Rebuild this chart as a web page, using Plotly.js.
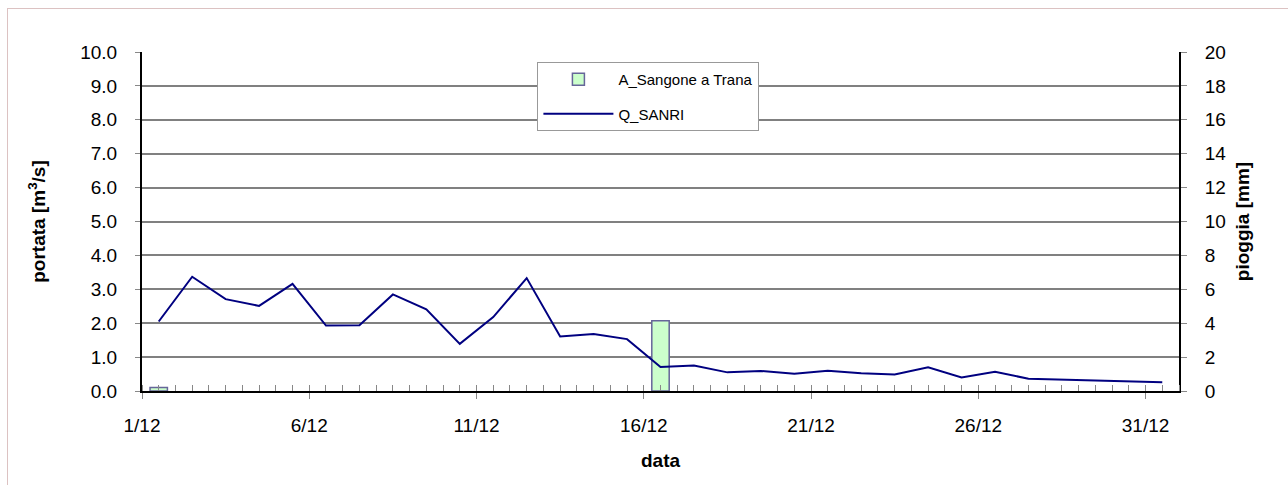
<!DOCTYPE html>
<html>
<head>
<meta charset="utf-8">
<script src="https://cdn.plot.ly/plotly-3.0.1.min.js"></script>
<style>
  html, body { margin: 0; padding: 0; background: #fff; }
  #wrap { position: relative; width: 1288px; height: 485px; overflow: hidden; }
  #chart { width: 1288px; height: 485px; }
  #frame { position: absolute; left: 7px; top: 8px; width: 1300px; height: 500px;
           border: 1px solid #dcc2c2; pointer-events: none; }
</style>
</head>
<body>
<div id="wrap"><div id="chart"></div><div id="frame"></div></div>
<script>
// Days of December (categories)
const dates = [
  '2008-12-01','2008-12-02','2008-12-03','2008-12-04','2008-12-05','2008-12-06','2008-12-07',
  '2008-12-08','2008-12-09','2008-12-10','2008-12-11','2008-12-12','2008-12-13','2008-12-14',
  '2008-12-15','2008-12-16','2008-12-17','2008-12-18','2008-12-19','2008-12-20','2008-12-21',
  '2008-12-22','2008-12-23','2008-12-24','2008-12-25','2008-12-26','2008-12-27','2008-12-28',
  '2008-12-29','2008-12-30','2008-12-31'
];
// Portata Q_SANRI [m3/s]
const portata = [
  2.05, 3.37, 2.71, 2.51, 3.16, 1.93, 1.94, 2.85, 2.41, 1.39, 2.18, 3.33, 1.61, 1.68,
  1.53, 0.71, 0.75, 0.55, 0.59, 0.51, 0.60, 0.52, 0.49, 0.70, 0.40, 0.57, 0.36, 0.34,
  0.30, 0.28, 0.26
];
// Pioggia A_Sangone a Trana [mm] (null = no rain, no bar drawn)
const pioggia = [
  0.2, null, null, null, null, null, null, null, null, null, null, null, null, null,
  null, 4.15, null, null, null, null, null, null, null, null, null, null, null, null,
  null, null, null
];
const seriesNames = ['A_Sangone a Trana', 'Q_SANRI'];
const axisTitles = { x: 'data', yLeft: 'portata [m<sup>3</sup>/s]', yRight: 'pioggia [mm]' };

const DAY = 86400000;
const FONT = "'Liberation Sans', Arial, sans-serif";
const TICK = 19, TITLE = 19, LEG = 15;

const traces = [
  {
    type: 'bar', name: seriesNames[0], x: dates, y: pioggia, yaxis: 'y',
    xperiod: DAY, xperiodalignment: 'middle', width: 0.52 * DAY,
    marker: { color: '#ccffcc', line: { color: '#666699', width: 1.5 } },
    legendgroup: 'a'
  },
  {
    type: 'scatter', mode: 'lines', name: seriesNames[1], x: dates, y: portata, yaxis: 'y2',
    xperiod: DAY, xperiodalignment: 'middle',
    line: { color: '#000080', width: 2 },
    legendgroup: 'b'
  }
];

const layout = {
  width: 1288, height: 485,
  margin: { l: 142, r: 109, t: 52, b: 94 },
  paper_bgcolor: '#ffffff', plot_bgcolor: '#ffffff',
  font: { family: FONT, size: TICK, color: '#000' },
  showlegend: true,
  bargap: 0,
  xaxis: {
    type: 'date',
    range: ['2008-12-01', '2009-01-01'],
    tick0: '2008-12-01', dtick: 5 * DAY, tickformat: '%-d/%-m',
    ticks: 'outside', ticklen: 6, tickcolor: '#888', tickwidth: 1,
    minor: { ticks: 'inside', ticklen: 6, dtick: DAY / 2, tick0: '2008-12-01', tickcolor: '#888', tickwidth: 1, showgrid: false },
    showgrid: false, zeroline: false,
    showline: true, linecolor: '#000', linewidth: 2,
    ticklabelstandoff: 10,
    tickfont: { family: FONT, size: TICK },
    title: { text: axisTitles.x, font: { family: FONT, size: TITLE, weight: 'bold' }, standoff: 19 },
    fixedrange: true
  },
  yaxis: {
    side: 'right',
    range: [0, 20], dtick: 2, tick0: 0,
    ticks: 'outside', ticklen: 6, tickcolor: '#888',
    showgrid: false, zeroline: false,
    showline: true, linecolor: '#000', linewidth: 2,
    ticklabelstandoff: 14,
    tickfont: { family: FONT, size: TICK },
    title: { text: axisTitles.yRight, font: { family: FONT, size: TITLE, weight: 'bold' }, standoff: 10 },
    fixedrange: true
  },
  yaxis2: {
    overlaying: 'y', side: 'left',
    range: [0, 10], dtick: 1, tick0: 0, tickformat: '.1f',
    ticks: 'outside', ticklen: 5, tickcolor: '#888',
    showgrid: true, gridcolor: '#808080', gridwidth: 2,
    zeroline: false,
    showline: true, linecolor: '#000', linewidth: 2,
    ticklabelstandoff: 14,
    tickfont: { family: FONT, size: TICK },
    title: { text: axisTitles.yLeft, font: { family: FONT, size: TITLE, weight: 'bold' }, standoff: 30 },
    fixedrange: true
  },
  legend: {
    x: 0.3813, y: 0.9705, xanchor: 'left', yanchor: 'top',
    bgcolor: '#ffffff', bordercolor: '#999999', borderwidth: 1,
    font: { family: FONT, size: LEG, color: '#000' },
    itemwidth: 70, tracegroupgap: 12, traceorder: 'grouped'
  }
};

Plotly.newPlot('chart', traces, layout, { displayModeBar: false, staticPlot: true });
</script>
</body>
</html>
